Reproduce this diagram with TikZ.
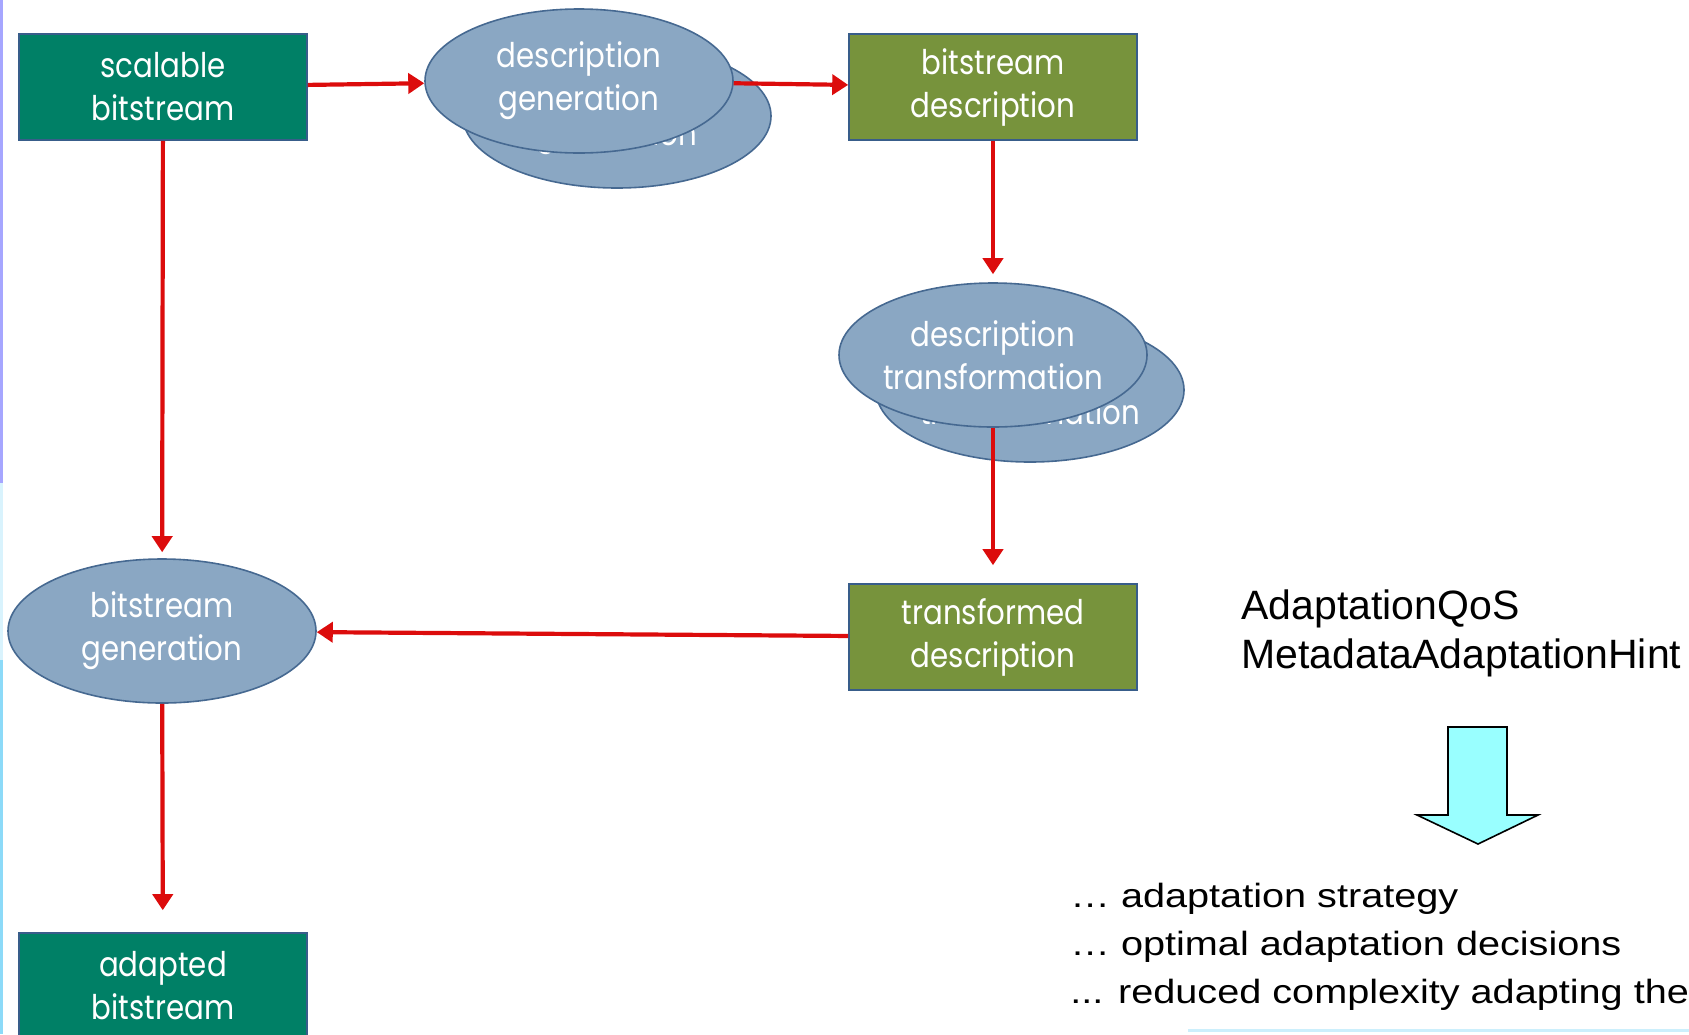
\documentclass[tikz,border=0pt]{standalone}
\usepackage{fontspec}
\setmainfont{Liberation Sans}
\newfontfamily\geofont[FakeStretch=0.86]{Poppins}
\newfontfamily\widefont[FakeStretch=1.18]{Liberation Sans}
\usetikzlibrary{shapes.geometric,arrows.meta}
\definecolor{boxteal}{RGB}{0,128,102}
\definecolor{boxolive}{RGB}{119,147,60}
\definecolor{ovalfill}{RGB}{138,167,195}
\definecolor{ovalline}{RGB}{70,105,145}
\definecolor{boxline}{RGB}{56,93,138}
\definecolor{flowred}{RGB}{220,12,12}
\definecolor{hintcyan}{RGB}{153,255,255}
\begin{document}
\begin{tikzpicture}[x=0.5pt,y=-0.5pt,
  lbl/.style={text=white, align=center, font=\geofont\fontsize{17}{21.5}\selectfont},
  box/.style={lbl, draw=boxline, line width=0.8pt, minimum width=144pt, minimum height=53pt, inner sep=0pt},
  oval/.style={lbl, ellipse, draw=ovalline, fill=ovalfill, line width=0.8pt, minimum width=154pt, minimum height=72pt, inner xsep=-4pt, inner ysep=0pt},
  flow/.style={draw=flowred, line width=2.1pt, -{Triangle[length=8pt,width=10pt]}},
  note/.style={anchor=base west, inner sep=0pt}]
\clip (0,0) rectangle (1689,1034);

% Slide edge
\fill[blue!35] (0,0) rectangle (3,483);
\fill[cyan!15] (0,483) rectangle (3,660);
\fill[cyan!45] (0,660) rectangle (3,1034);
\fill[cyan!20] (1188,1029) rectangle (1689,1032);

% Back copies of the process ovals
\node[oval] (descgenback) at (617,116) {description\\generation};
\node[oval] (desctransback) at (1030,390) {description\\transformation};

% Boxes
\node[box, fill=boxteal] (scalable) at (163,87) {scalable\\bitstream};
\node[box, fill=boxolive] (bsdesc) at (993,87) {bitstream\\description};
\node[box, fill=boxolive] (transdesc) at (993,637) {transformed\\description};
\node[box, fill=boxteal] (adapted) at (163,986) {adapted\\bitstream};

% Process ovals
\node[oval] (descgen) at (579,81) {description\\generation};
\node[oval] (desctrans) at (993,355) {description\\transformation};
\node[oval] (bsgen) at (162,631) {bitstream\\generation};

% Flow
\foreach \a/\b/\s in {scalable/descgen/0, descgen/bsdesc/0, bsdesc/desctrans/4,
    desctrans/transdesc/9, transdesc/bsgen/0, scalable/bsgen/3, bsgen/adapted/11}
  \draw[flow, shorten >=\s pt] (\a) -- (\b);

% Notes
\node[note, font=\fontsize{20.5}{24}\selectfont] (qos) at (1241,619) {AdaptationQoS};
\node[note, font=\fontsize{20.5}{24}\selectfont] (hint) at (1241,668) {MetadataAdaptationHint};
\draw[fill=hintcyan, line width=0.8pt] (1448,727) -- (1507,727) -- (1507,815) -- (1538,815)
  -- (1478,844) -- (1417,815) -- (1448,815) -- cycle;
\node[note, font=\widefont\fontsize{16.8}{20}\selectfont] (strategy) at (1070,907) {… adaptation strategy};
\node[note, font=\widefont\fontsize{16.8}{20}\selectfont] (decisions) at (1070,955) {… optimal adaptation decisions};
\node[note, font=\widefont\fontsize{16.8}{20}\selectfont] (reduced) at (1070,1003) {... reduced complexity adapting the};
\end{tikzpicture}
\end{document}
